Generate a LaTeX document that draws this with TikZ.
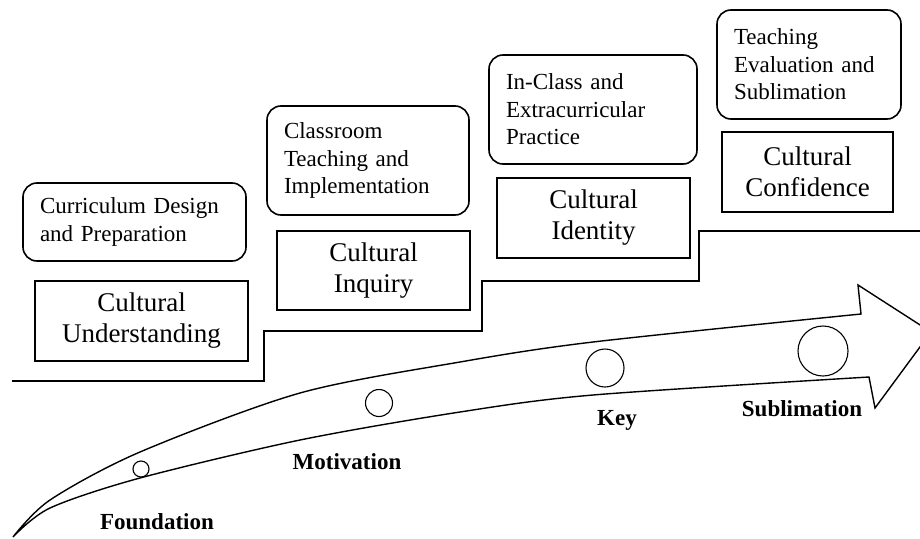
\documentclass[tikz,border=0pt]{standalone}
\usepackage{fontspec}
\setmainfont{Liberation Serif}
\begin{document}
\begin{tikzpicture}[x=1pt,y=-1pt,
  phase/.style={draw, line width=1.6pt, rounded corners=14pt, align=left,
    inner xsep=17pt, inner ysep=0pt, font=\fontsize{23}{27.5}\selectfont},
  level/.style={draw, line width=1.8pt, align=center, inner sep=0pt,
    font=\fontsize{27}{31}\selectfont},
  stage/.style={font=\bfseries\fontsize{23}{27}\selectfont, inner sep=0pt},
  dot/.style={draw, circle, line width=1.1pt, inner sep=0pt}]
\useasboundingbox (0,0) rectangle (920,538);

% staircase
\draw[line width=2pt] (12,381) -- (264,381) -- (264,331) -- (482,331) -- (482,281)
  -- (699,281) -- (699,231) -- (921,231);

% arrow
\draw[line width=1.4pt, line join=miter]
  plot[smooth, tension=0.5] coordinates {(13,537) (50,500) (140,452) (300,393) (460,362) (593,342) (861,314)}
  -- (858,285) -- (931,332) -- (875,408) -- (869,377)
  -- plot[smooth, tension=0.5] coordinates {(869,377) (593,395) (460,412) (300,440) (140,478) (50,508) (13,537)}
  -- cycle;

% phase boxes
\node[phase, text width=189pt, minimum height=78pt] (p1) at (134.5,222) {Curriculum Design\\and Preparation};
\node[phase, text width=168pt, minimum height=109pt] (p2) at (368,160.5) {Classroom\\Teaching and\\Implementation};
\node[phase, text width=174pt, minimum height=109pt] (p3) at (593,109.5) {In-Class and\\Extracurricular\\Practice};
\node[phase, text width=150pt, minimum height=109pt] (p4) at (809,64.5) {Teaching\\Evaluation and\\Sublimation};

% level boxes
\node[level, minimum width=213pt, minimum height=80pt] (l1) at (141.5,321) {Cultural\\Understanding};
\node[level, minimum width=193pt, minimum height=79pt] (l2) at (373.5,270.5) {Cultural\\Inquiry};
\node[level, minimum width=193pt, minimum height=80pt] (l3) at (593.5,218) {Cultural\\Identity};
\node[level, minimum width=171pt, minimum height=80pt] (l4) at (807.5,172) {Cultural\\Confidence};

% circles
\node[dot, minimum size=16pt] (c1) at (141,469) {};
\node[dot, minimum size=27pt] (c2) at (379,403) {};
\node[dot, minimum size=38pt] (c3) at (605,368) {};
\node[dot, minimum size=50pt] (c4) at (823,351) {};

% stage labels
\node[stage] (s1) at (157,522) {Foundation};
\node[stage] (s2) at (347,462) {Motivation};
\node[stage] (s3) at (617,420) {Key};
\node[stage] (s4) at (802,409) {Sublimation};
\end{tikzpicture}
\end{document}
